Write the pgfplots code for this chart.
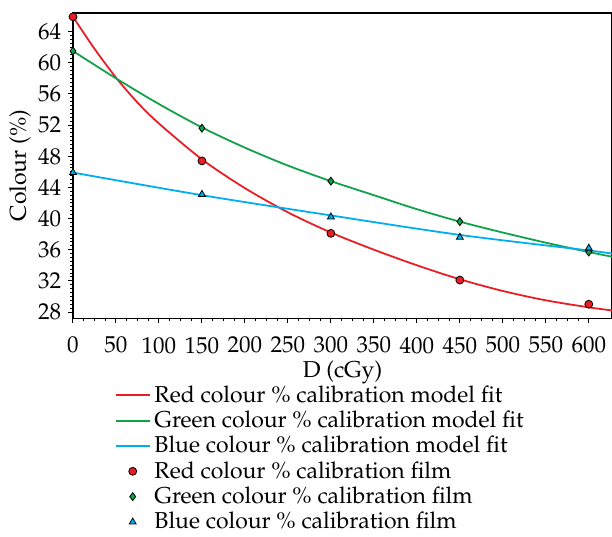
\documentclass[border=0pt]{standalone}
\usepackage[T1]{fontenc}
\usepackage{mathpazo}
\usepackage{pgfplots}
\pgfplotsset{compat=1.18}
\definecolor{fitred}{RGB}{232,30,36}
\definecolor{fitgreen}{RGB}{16,162,72}
\definecolor{fitblue}{RGB}{0,174,239}
\newcommand{\chartfont}{\fontsize{11.6}{13.9}\selectfont}

\begin{document}
\begin{tikzpicture}
\begin{axis}[
  scale only axis,
  width=271bp, height=153.5bp,
  xmin=0, xmax=627,
  ymin=27.2, ymax=66.4,
  xtick={0,50,...,600},
  ytick={28,32,...,64},
  minor x tick num=3,
  minor y tick num=7,
  tick pos=left,
  tick align=outside,
  major tick length=2.5bp,
  minor tick length=1.5bp,
  tick style={black, line width=0.5pt},
  axis line style={black, line width=0.6pt},
  tick label style={font=\chartfont},
  xticklabel style={yshift=-3.5bp},
  label style={font=\chartfont},
  xlabel={D (cGy)},
  ylabel={Colour (\%)},
  xlabel style={yshift=3.3bp},
  ylabel style={yshift=-3.1bp},
  clip=false,
  legend cell align=left,
  legend style={draw=none, fill=none, at={(0.066,-0.193)}, anchor=north west,
    row sep=-1.1bp, font=\chartfont},
]
  \addplot[fitred, line width=0.9pt, smooth] coordinates {
    (0,65.9) (25,61.8) (50,58.1) (75,54.9) (100,52.2) (150,47.6) (200,43.9)
    (250,40.8) (300,38.2) (350,36.0) (400,34.0) (450,32.2) (500,30.7)
    (550,29.5) (600,28.6) (627,28.2)};
  \addlegendentry{Red colour \% calibration model fit}
  \addplot[fitgreen, line width=0.9pt, smooth] coordinates {
    (0,61.5) (50,58.0) (100,54.7) (150,51.7) (200,49.1) (250,46.8) (300,44.8)
    (350,43.0) (400,41.2) (450,39.6) (500,38.2) (550,36.9) (600,35.7) (627,35.1)};
  \addlegendentry{Green colour \% calibration model fit}
  \addplot[fitblue, line width=0.9pt, smooth] coordinates {
    (0,45.9) (150,43.0) (300,40.4) (450,37.9) (600,35.9) (627,35.5)};
  \addlegendentry{Blue colour \% calibration model fit}
  \addplot[only marks, mark=*, mark size=2pt,
    mark options={fill=fitred, draw=black, line width=0.4pt}] coordinates {
    (0,65.9) (150,47.4) (300,38.1) (450,32.1) (600,29.0)};
  \addlegendentry{Red colour \% calibration film}
  \addplot[only marks, mark=diamond*, mark size=2pt,
    mark options={fill=fitgreen, draw=black, line width=0.4pt}] coordinates {
    (0,61.5) (150,51.6) (300,44.8) (450,39.6) (600,35.7)};
  \addlegendentry{Green colour \% calibration film}
  \addplot[only marks, mark=triangle*, mark size=2pt,
    mark options={fill=fitblue, draw=black, line width=0.4pt}] coordinates {
    (0,45.9) (150,43.1) (300,40.2) (450,37.6) (600,36.2)};
  \addlegendentry{Blue colour \% calibration film}
\end{axis}
% fix the page to the reference's proportions (about 307.7bp x 269.5bp)
\pgfresetboundingbox
\path ([shift={(-36.7bp,-109.5bp)}]current axis.south west)
  rectangle ([shift={(0bp,6.5bp)}]current axis.north east);
\end{tikzpicture}
\end{document}
